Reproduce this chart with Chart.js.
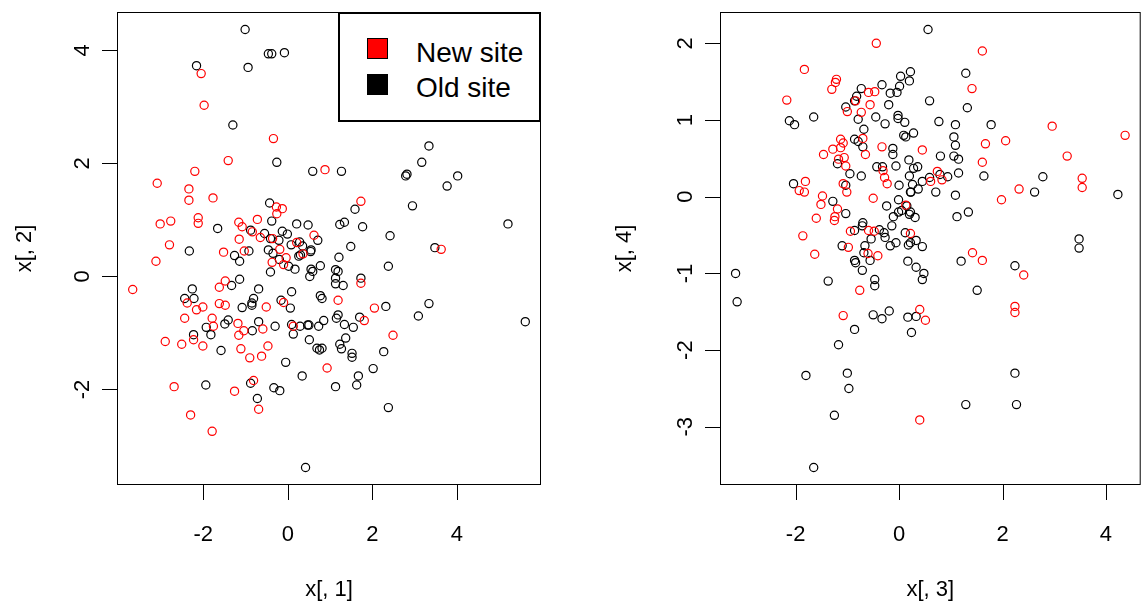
<!DOCTYPE html>
<html>
<head>
<meta charset="utf-8">
<script src="https://cdn.jsdelivr.net/npm/chart.js@4.4.1/dist/chart.umd.min.js"></script>
<style>
html, body { margin: 0; padding: 0; background: #fff; overflow: hidden; }
#wrap { position: relative; width: 1141px; height: 605px; overflow: hidden; background: #fff; }
canvas { position: absolute; top: 0; }
#c1 { left: 0; }
#c2 { left: 600px; }
.lg { position: absolute; font-family: "Liberation Sans", Arial, sans-serif; }
#lgbox { left: 338px; top: 12px; width: 203px; height: 110px; border: 2px solid #000; box-sizing: border-box; background: #fff; }
.sw { width: 21px; height: 21px; box-sizing: border-box; border: 1px solid #000; }
.lt { font-size: 28px; line-height: 28px; color: #000; white-space: nowrap; }
</style>
</head>
<body>
<div id="wrap">
  <canvas id="c1" width="570" height="605"></canvas>
  <canvas id="c2" width="546" height="605"></canvas>
  <div id="lgbox" class="lg"></div>
  <div class="lg sw" style="left:367px;top:38px;background:#ff0000;"></div>
  <div class="lg sw" style="left:367px;top:74px;background:#000000;"></div>
  <div class="lg lt" style="left:416px;top:39px;">New site</div>
  <div class="lg lt" style="left:416px;top:74px;">Old site</div>
</div>
<script>
// ---- Left panel: x[,1] vs x[,2] ----
const newX1 = [-3.67,-3.09,-3.02,-2.77,-2.80,-2.34,-2.34,-2.20,-2.12,-2.12,
  -2.05,-1.98,-1.77,-1.41,-0.34,0.88,-3.12,-1.52,-1.03,-0.19,
  -0.37,-0.10,0.36,-1.48,-1.62,-2.38,-2.16,-2.01,-1.62,-1.48,
  -0.51,-0.10,-2.44,-1.79,-1.76,-1.18,-1.04,-1.16,-0.59,0.13,
  -2.90,-2.51,-2.23,-2.01,-1.11,-0.90,-0.62,-0.47,0.93,-2.69,
  -1.26,-0.81,-0.69,-2.30,-1.79,-0.27,-0.13,-0.26,-0.72,-1.16,
  -1.08,-0.84,0.62,-1.15,-0.65,-0.36,0.21,1.73,3.63,1.73,
  1.19,2.05,1.81,2.49,-0.04];
const newX2 = [-0.23,1.65,0.93,0.98,0.56,1.55,1.35,1.86,1.04,0.94,
  3.59,3.03,1.39,2.05,2.44,1.89,0.27,0.43,0.45,0.48,
  0.25,0.21,0.40,-0.08,-0.19,-0.47,-0.59,-0.54,-0.48,-0.51,
  -0.54,-0.46,-0.74,-0.74,-0.88,-0.83,-0.96,-1.04,-0.93,-0.88,
  -1.15,-1.20,-1.12,-1.23,-1.28,-1.44,-1.41,-1.23,-1.62,-1.95,
  -2.03,-1.84,-2.35,-2.45,-2.74,1.23,1.20,1.11,1.01,0.96,
  0.88,0.79,0.73,0.66,0.69,0.67,0.60,1.33,0.48,-0.12,
  -0.42,-0.56,-0.78,-1.04,0.33];
const oldX1 = [-1.01,-0.46,-0.38,-0.08,-2.16,-0.94,-1.30,-0.26,0.59,-2.33,
  -1.26,-1.14,-0.92,-0.46,-0.35,0.30,0.26,0.54,-0.41,
  -0.20,0.02,0.17,0.55,0.59,0.52,0.77,-1.14,-1.33,-2.26,
  -0.69,-2.44,-2.22,0.09,-0.81,-0.85,-0.85,-1.08,-0.16,0.06,
  0.77,0.81,-1.41,-1.49,-0.69,-1.93,-1.82,-2.23,-0.84,-0.30,
  0.09,0.13,0.29,0.47,0.50,0.73,0.85,0.51,0.69,0.75,
  0.81,-1.58,-0.05,0.34,-1.94,-0.88,-0.33,-0.19,-0.72,0.42,
  -0.43,-0.38,0.21,0.48,-1.66,-0.88,-0.55,-0.13,-0.01,0.71,
  -0.41,-0.21,0.28,0.08,0.35,0.55,3.34,3.17,2.79,2.82,
  4.02,3.77,1.27,2.95,1.59,1.23,1.34,1.77,2.42,5.21,
  1.49,3.48,1.21,2.38,1.13,1.19,1.13,1.13,1.31,1.73,
  2.32,3.34,3.09,5.62,1.19,1.15,1.70,1.34,1.55,1.37,
  1.23,1.27,1.52,1.52,2.27,2.02,1.67,1.63,1.13,2.38];
const oldX2 = [4.37,3.94,3.94,3.96,3.73,3.70,2.68,2.02,1.86,0.45,
  0.37,0.27,0.45,0.47,0.41,0.38,0.36,0.44,0.08,
  0.30,0.18,0.13,0.13,0.09,0.00,0.19,-0.05,-0.16,-0.22,
  -0.22,-0.39,-0.39,-0.27,-0.39,-0.47,-0.51,-0.55,-0.42,-0.56,
  -0.34,-0.39,-0.77,-0.84,-0.80,-0.90,-1.03,-1.03,-0.96,-0.88,
  -0.85,-1.02,-0.88,-0.86,-0.86,-0.88,-0.78,-1.12,-1.27,-1.30,
  -1.27,-1.31,-1.52,-1.76,-1.92,-1.89,-1.97,-2.02,-2.16,-3.38,
  1.30,0.98,0.93,0.91,0.85,0.82,0.76,0.80,0.75,0.64,
  0.67,0.64,0.61,0.56,0.54,0.47,2.31,2.02,1.78,1.81,
  1.78,1.60,1.86,1.25,1.19,0.92,0.96,0.88,0.72,0.93,
  0.53,0.51,0.34,0.18,0.12,0.09,-0.03,-0.13,-0.16,-0.03,
  -0.53,-0.48,-0.70,-0.80,-0.68,-0.74,-0.72,-0.85,-0.90,-1.09,
  -1.20,-1.28,-1.36,-1.43,-1.33,-1.63,-1.76,-1.92,-1.95,-2.32];

// ---- Right panel: x[,3] vs x[,4] ----
const newX3 = [-0.44,-1.83,-1.21,-1.23,-1.30,-2.17,-0.59,-0.47,-0.84,-1.00,
  -0.73,-0.56,-0.70,-1.13,-1.08,-1.28,-1.46,-1.13,-1.17,-1.06,
  -1.03,-0.65,-0.33,-0.31,-0.28,-0.23,-1.81,-1.93,-1.83,-1.08,
  -1.01,-1.48,-1.51,-0.50,-1.19,-1.24,-1.25,-1.60,0.13,-0.94,
  -0.59,-0.48,-1.86,0.22,-0.98,-1.63,-0.60,-0.41,-0.76,-1.08,
  0.40,1.61,1.41,2.96,4.37,1.67,2.06,0.45,1.61,3.25,
  0.74,0.83,0.61,3.54,3.54,2.32,1.98,1.42,1.61,2.41,
  0.40,0.51,2.24,2.24];
const newX4 = [2.00,1.66,1.53,1.49,1.40,1.26,1.36,1.37,1.25,1.11,
  1.10,1.20,0.76,0.75,0.70,0.62,0.55,0.64,0.49,0.51,
  0.40,0.55,0.65,0.34,0.25,0.17,0.20,0.08,0.06,0.17,
  0.06,0.01,-0.10,-0.02,-0.16,-0.26,-0.31,-0.28,-0.11,-0.45,
  -0.44,-0.45,-0.51,-0.48,-0.66,-0.75,-0.74,-0.77,-1.22,-1.55,
  -2.91,1.90,1.41,0.92,0.80,0.69,0.73,0.61,0.45,0.53,
  0.33,0.22,0.20,0.24,0.12,0.10,-0.04,-0.73,-0.83,-1.02,
  -1.47,-1.61,-1.43,-1.51];
const oldX3 = [-2.12,-2.02,-1.65,-0.73,-0.82,-0.86,-0.33,-0.17,-0.04,0.01,
  0.03,0.22,0.20,-1.03,-0.79,-0.45,-0.27,-0.20,-0.02,-0.02,
  0.11,0.28,0.09,0.13,-0.68,-0.86,-0.79,-0.70,-1.19,-0.95,
  -0.12,-0.12,-0.06,-0.43,-0.32,0.19,0.20,0.28,-0.73,-2.04,
  -1.03,0.00,0.23,-1.28,-0.24,-0.01,-1.03,-0.11,-0.01,0.05,
  0.15,0.20,-0.14,-0.70,-0.71,-0.86,-0.54,-0.38,-0.29,-0.27,
  0.12,-1.10,-0.66,-0.17,-0.06,0.18,-0.68,-0.86,-0.84,-0.56,
  -0.71,0.17,0.33,-3.16,-3.13,-1.37,-0.47,-0.47,-0.50,-0.33,
  -0.19,0.17,0.33,0.24,-0.86,-1.17,-1.80,-1.00,-0.97,-1.25,
  -1.65,0.56,1.29,0.59,1.32,0.77,1.09,1.78,1.06,1.09,
  1.06,1.15,0.80,0.36,1.15,1.64,0.79,0.94,0.45,0.37,
  0.26,0.22,0.71,1.09,2.78,2.62,4.23,1.34,1.12,0.22,
  0.31,0.22,0.33,0.45,3.48,3.48,1.20,0.48,0.45,2.24,
  1.51,2.24,1.29,2.27,0.59];
const oldX4 = [0.99,0.94,1.04,1.41,1.31,1.25,1.46,1.35,1.36,1.44,
  1.57,1.63,1.51,1.17,1.01,1.04,0.95,1.20,1.06,1.02,
  0.97,0.83,0.80,0.78,0.88,0.75,0.72,0.65,0.43,0.30,
  0.63,0.55,0.40,0.39,0.39,0.48,0.27,0.37,0.27,0.17,
  0.15,0.15,0.06,-0.06,-0.12,-0.04,-0.22,-0.26,-0.20,-0.18,
  -0.12,-0.23,-0.38,-0.34,-0.38,-0.44,-0.55,-0.43,-0.47,-0.53,
  -0.47,-0.64,-0.64,-0.64,-0.60,-0.63,-0.73,-0.83,-0.86,-0.83,
  -0.96,-0.84,-0.92,-1.00,-1.37,-1.10,-1.08,-1.16,-1.54,-1.59,
  -1.49,-1.57,-1.56,-1.77,-1.73,-1.93,-2.33,-2.30,-2.50,-2.85,
  -3.53,2.18,1.61,1.25,1.16,0.98,0.94,0.94,0.78,0.67,
  0.53,0.49,0.53,0.39,0.31,0.27,0.29,0.26,0.20,0.10,
  0.16,0.06,0.06,0.02,0.26,0.06,0.03,-0.20,-0.26,-0.20,
  -0.27,-0.60,-0.57,-0.65,-0.55,-0.67,-0.84,-1.00,-1.08,-0.90,
  -1.22,-2.30,-2.71,-2.71,0.25];

const ticksX1 = [-2, 0, 2, 4];
const ticksX2 = [-2, 0, 2, 4];
const ticksX3 = [-2, 0, 2, 4];
const ticksX4 = [-3, -2, -1, 0, 1, 2];
const seriesNames = ['New site', 'Old site'];
const seriesColors = ['#ff0000', '#000000'];

const FONT = '"Liberation Sans", Arial, sans-serif';

function pts(xs, ys) { return xs.map((v, i) => ({ x: v, y: ys[i] })); }
function lim(arrs) {
  const all = [].concat(...arrs);
  const lo = Math.min(...all), hi = Math.max(...all);
  const d = (hi - lo) * 0.04;
  return [lo - d, hi + d];
}

const rPlugin = {
  id: 'rstyle',
  afterDraw(chart) {
    const { ctx, chartArea: a } = chart;
    const x = chart.scales.x, y = chart.scales.y;
    ctx.save();
    ctx.strokeStyle = '#000';
    ctx.lineWidth = 1;
    ctx.strokeRect(a.left + 0.5, a.top + 0.5, a.right - a.left - 1, a.bottom - a.top - 1);
    ctx.beginPath();
    x.ticks.forEach(t => {
      const px = Math.round(x.getPixelForValue(t.value)) + 0.5;
      ctx.moveTo(px, a.bottom); ctx.lineTo(px, a.bottom + 15);
    });
    y.ticks.forEach(t => {
      const py = Math.round(y.getPixelForValue(t.value)) + 0.5;
      ctx.moveTo(a.left, py); ctx.lineTo(a.left - 15, py);
    });
    ctx.stroke();
    ctx.fillStyle = '#000';
    ctx.font = '22px ' + FONT;
    ctx.textAlign = 'center';
    ctx.textBaseline = 'middle';
    x.ticks.forEach(t => ctx.fillText(String(t.value), x.getPixelForValue(t.value), a.bottom + 50));
    y.ticks.forEach(t => {
      ctx.save();
      ctx.translate(a.left - 34, y.getPixelForValue(t.value));
      ctx.rotate(-Math.PI / 2);
      ctx.fillText(String(t.value), 0, 0);
      ctx.restore();
    });
    ctx.restore();
  }
};

function makeChart(id, rx, ry, bx, by, xt, yt, xTitle, yTitle, yW, padRight) {
  const [xmin, xmax] = lim([rx, bx]);
  const [ymin, ymax] = lim([ry, by]);
  const mk = (d, i) => ({
    label: seriesNames[i], data: d, showLine: false,
    pointStyle: 'circle', pointRadius: 4.1, pointHoverRadius: 4.1,
    borderWidth: 1.2, pointBorderWidth: 1.2,
    borderColor: seriesColors[i], pointBorderColor: seriesColors[i],
    backgroundColor: 'rgba(0,0,0,0)', pointBackgroundColor: 'rgba(0,0,0,0)'
  });
  return new Chart(document.getElementById(id), {
    type: 'scatter',
    data: { datasets: [mk(pts(rx, ry), 0), mk(pts(bx, by), 1)] },
    options: {
      responsive: false, animation: false, devicePixelRatio: 1, events: [],
      layout: { padding: { left: 0, top: 12, right: padRight, bottom: 0 } },
      plugins: { legend: { display: false }, tooltip: { enabled: false } },
      scales: {
        x: {
          type: 'linear', min: xmin, max: xmax,
          grid: { display: false }, border: { display: false },
          ticks: { display: false },
          afterBuildTicks: s => { s.ticks = xt.map(v => ({ value: v })); },
          afterFit: s => { s.height = 120; },
          title: { display: true, text: xTitle, color: '#000', font: { family: FONT, size: 22 }, padding: { top: 0, bottom: 2 } }
        },
        y: {
          type: 'linear', min: ymin, max: ymax,
          grid: { display: false }, border: { display: false },
          ticks: { display: false },
          afterBuildTicks: s => { s.ticks = yt.map(v => ({ value: v })); },
          afterFit: s => { s.width = yW; },
          title: { display: true, text: yTitle, color: '#000', font: { family: FONT, size: 22 }, padding: { top: 12, bottom: 0 } }
        }
      }
    },
    plugins: [rPlugin]
  });
}

makeChart('c1', newX1, newX2, oldX1, oldX2, ticksX1, ticksX2, 'x[, 1]', 'x[, 2]', 117, 29);
makeChart('c2', newX3, newX4, oldX3, oldX4, ticksX3, ticksX4, 'x[, 3]', 'x[, 4]', 120, 2);
</script>
</body>
</html>
